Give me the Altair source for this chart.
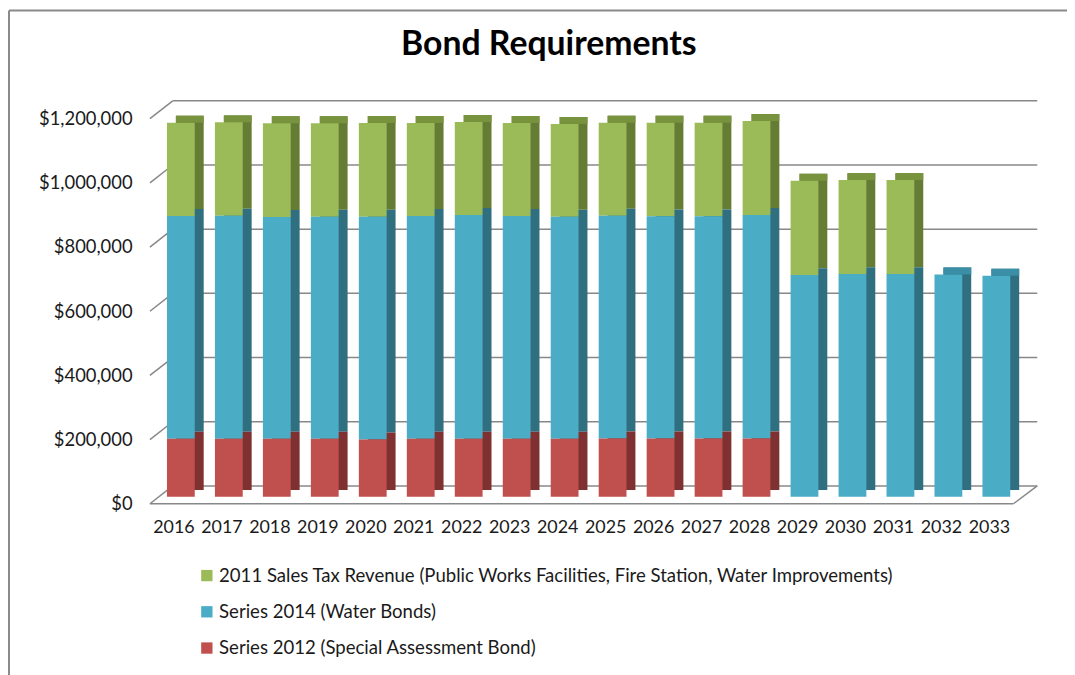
import altair as alt
import pandas as pd

years = [str(y) for y in range(2016, 2034)]

series_names = [
    "2011 Sales Tax Revenue (Public Works Facilities, Fire Station, Water Improvements)",
    "Series 2014 (Water Bonds)",
    "Series 2012 (Special Assessment Bond)",
]

sales_tax_2011 = [291000, 291000, 292000, 291000, 292000, 290000, 290000, 290000, 289000,
                  290000, 292000, 292000, 293000, 294000, 293000, 293000, 0, 0]
series_2014 = [694000, 695000, 691000, 692000, 694000, 694000, 697000, 694000, 692000,
               694000, 692000, 692000, 696000, 691000, 694000, 694000, 693000, 689000]
series_2012 = [181000, 181000, 181000, 181000, 179000, 181000, 181000, 181000, 181000,
               182000, 182000, 182000, 182000, 0, 0, 0, 0, 0]

y_ticks = [0, 200000, 400000, 600000, 800000, 1000000, 1200000]

front_colors = ["#9BBB59", "#4BACC6", "#C0504D"]
side_colors = ["#647C34", "#2F6F80", "#7E3130"]
top_colors = ["#78933E", "#3A8EA5", "#A04240"]

all_series = [sales_tax_2011, series_2014, series_2012]

rows = []
for s_idx, (name, vals) in enumerate(zip(series_names, all_series)):
    for yr, v in zip(years, vals):
        if v > 0:
            rows.append({"year": yr, "series": name, "value": v,
                         "stack_order": 2 - s_idx, "side": side_colors[s_idx]})
df = pd.DataFrame(rows)

# top face of each 3D column: colour of the topmost non-zero series
cap_rows = []
for i, yr in enumerate(years):
    total = sum(s[i] for s in all_series)
    top_idx = next(k for k, s in enumerate(all_series) if s[i] > 0)
    cap_rows.append({"year": yr, "total": total, "cap": top_colors[top_idx]})
cap_df = pd.DataFrame(cap_rows)

ticks_df = pd.DataFrame({"v": y_ticks})
floor_df = pd.DataFrame({"v": [0]})

W, H = 870, 388
FONT = "Lato"
GRID = "#888888"
TEXT = "#1a1a1a"

yscale = alt.Scale(domain=[0, 1200000], nice=False, zero=True)
xscale = alt.Scale(domain=years, paddingInner=0, paddingOuter=0)

y_axis = alt.Axis(title=None, domain=False, ticks=False, tickSize=0,
                  grid=False, values=y_ticks, format="$,.0f",
                  labelPadding=18, labelOffset=7, labelFont=FONT,
                  labelFontSize=18.5, labelColor=TEXT)
x_axis = alt.Axis(title=None, domain=False, ticks=False, tickSize=0, grid=False,
                  labelAngle=0, labelPadding=22, labelFont=FONT,
                  labelFontSize=18, labelColor=TEXT)

base = alt.Chart(df)

depth = base.mark_bar(size=28, xOffset=16, yOffset=-7, y2Offset=-7).encode(
    x=alt.X("year:N", scale=xscale, axis=x_axis),
    y=alt.Y("value:Q", stack="zero", scale=yscale, axis=y_axis),
    color=alt.Color("side:N", scale=None),
    order=alt.Order("stack_order:Q", sort="ascending"),
)

cap = alt.Chart(cap_df).mark_bar(size=28, xOffset=16, yOffset=-7).encode(
    x=alt.X("year:N", scale=xscale, axis=x_axis),
    y=alt.Y("total:Q", scale=yscale, axis=y_axis),
    y2="total:Q",
    color=alt.Color("cap:N", scale=None),
)

front = base.mark_bar(size=28, xOffset=7).encode(
    x=alt.X("year:N", scale=xscale, axis=x_axis),
    y=alt.Y("value:Q", stack="zero", scale=yscale, axis=y_axis),
    color=alt.Color("series:N",
                    scale=alt.Scale(domain=series_names, range=front_colors),
                    legend=alt.Legend(title=None, orient="none", legendX=48, legendY=458,
                                      direction="vertical", symbolType="square",
                                      symbolSize=130, symbolStrokeWidth=0,
                                      labelFont=FONT, labelFontSize=18.7,
                                      labelColor=TEXT, labelLimit=1000,
                                      rowPadding=16.5, labelOffset=3)),
    order=alt.Order("stack_order:Q", sort="ascending"),
)

grid = alt.Chart(ticks_df).mark_rule(yOffset=-11, color=GRID, strokeWidth=1.5).encode(
    y=alt.Y("v:Q", scale=yscale, axis=y_axis),
    x=alt.value(23), x2=alt.value(W + 24),
)

slants = alt.Chart(ticks_df).mark_rule(yOffset=7, y2Offset=-11, color=GRID, strokeWidth=1.5).encode(
    y=alt.Y("v:Q", scale=yscale, axis=y_axis), y2="v:Q",
    x=alt.value(0), x2=alt.value(23),
)

floor_front = alt.Chart(floor_df).mark_rule(yOffset=7, color=GRID, strokeWidth=1.5).encode(
    y=alt.Y("v:Q", scale=yscale, axis=y_axis),
    x=alt.value(0), x2=alt.value(W),
)
floor_side = alt.Chart(floor_df).mark_rule(yOffset=7, y2Offset=-11, color=GRID, strokeWidth=1.5).encode(
    y=alt.Y("v:Q", scale=yscale, axis=y_axis), y2="v:Q",
    x=alt.value(W), x2=alt.value(W + 24),
)

frame_top = alt.Chart(floor_df).mark_rule(color="#8a8a8a", strokeWidth=2).encode(
    x=alt.value(-142), x2=alt.value(W + 60), y=alt.value(-102),
)
frame_left = alt.Chart(floor_df).mark_rule(color="#8a8a8a", strokeWidth=2).encode(
    x=alt.value(-142), y=alt.value(-102), y2=alt.value(H + 180),
)

chart = alt.layer(
    frame_top, frame_left, grid, slants, floor_front, floor_side, depth, cap, front
).properties(
    width=W, height=H,
    background="white",
    autosize=alt.AutoSizeParams(type="none"),
    padding={"left": 143, "top": 102, "right": 54, "bottom": 177},
    title=alt.TitleParams("Bond Requirements", font=FONT, fontSize=34, fontWeight="bold",
                          color="#000000", anchor="middle", dx=-33, offset=-53),
).configure_view(stroke=None, strokeWidth=0).configure_axis(grid=False)

chart.save("out.html", embed_options={"renderer": "svg", "actions": False})
